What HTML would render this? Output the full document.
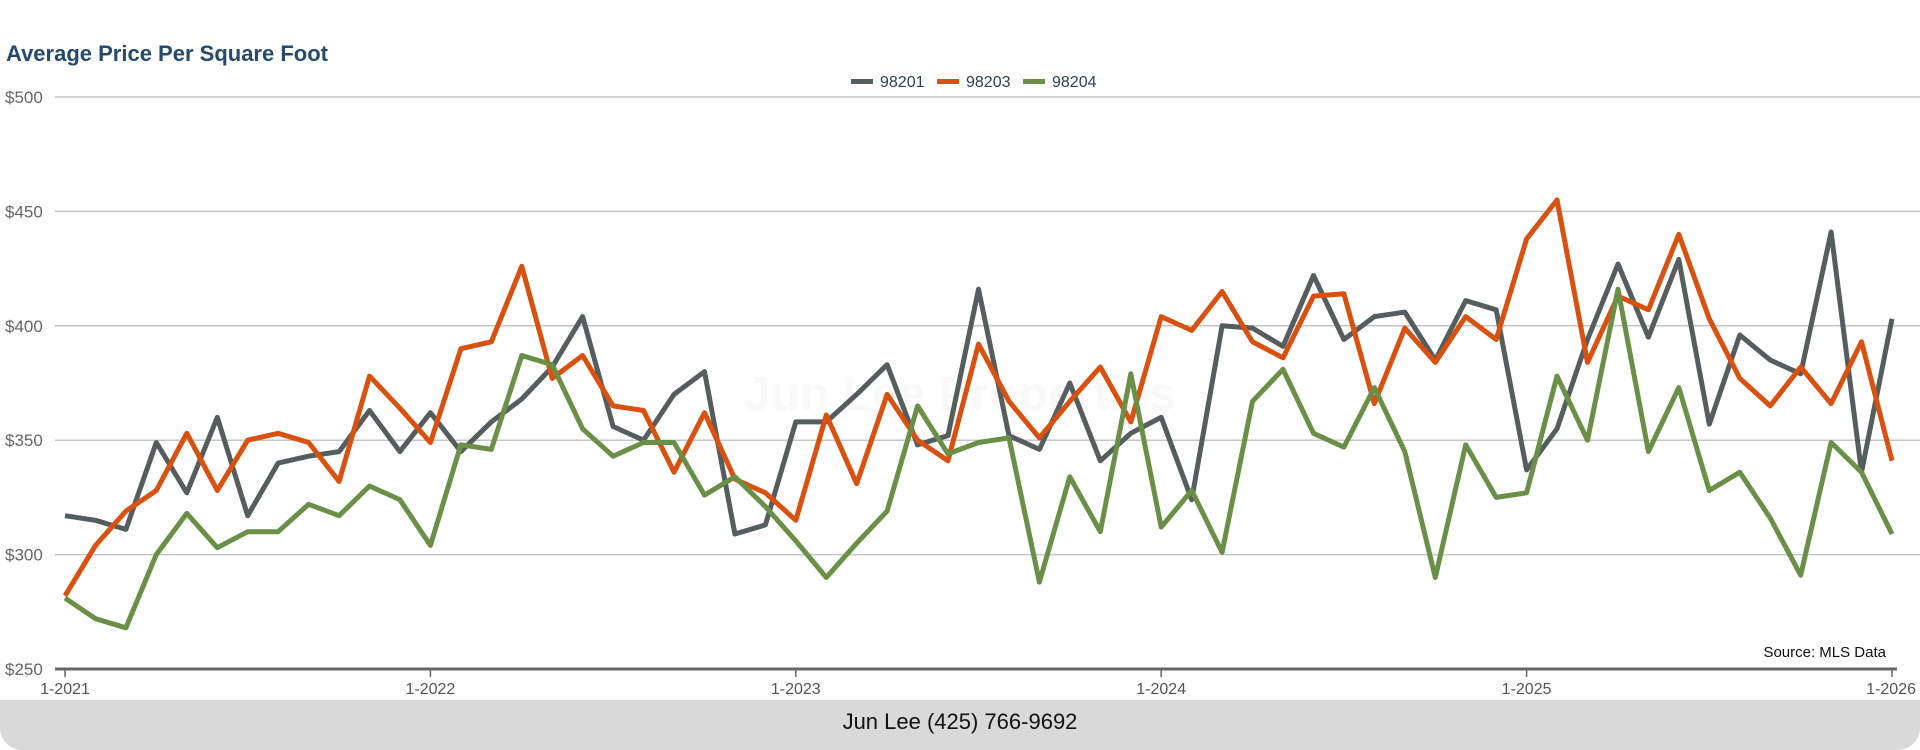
<!DOCTYPE html>
<html><head><meta charset="utf-8">
<style>
body{margin:0;width:1920px;height:750px;background:#fff;overflow:hidden;font-family:"Liberation Sans",sans-serif;position:relative}
#title{position:absolute;left:6px;top:41px;font-size:22px;font-weight:bold;color:#264a6e}
#footer{position:absolute;left:0;top:700px;width:1920px;height:50px;background:#d9d9d9;border-radius:0 0 22px 22px;text-align:center;line-height:44px;font-size:22px;color:#111}
svg{position:absolute;left:0;top:0}
</style></head><body>
<div id="title">Average Price Per Square Foot</div>
<svg id="chart" width="1920" height="750"></svg>
<div id="footer">Jun Lee (425) 766-9692</div>
<script>
const seriesNames=["98201","98203","98204"];
const colors=["#555d5e","#d9500f","#6a8f47"];
const s98201=[317,315,311,349,327,360,317,340,343,345,363,345,362,345,358,368,382,404,356,350,370,380,309,313,358,358,370,383,348,352,416,352,346,375,341,353,360,324,400,399,391,422,394,404,406,385,411,407,337,355,394,427,395,429,357,396,385,379,441,336,403];
const s98203=[282,304,319,328,353,328,350,353,349,332,378,364,349,390,393,426,377,387,365,363,336,362,333,327,315,361,331,370,350,341,392,367,351,367,382,358,404,398,415,393,386,413,414,366,399,384,404,394,438,455,384,413,407,440,403,377,365,382,366,393,341];
const s98204=[281,272,268,300,318,303,310,310,322,317,330,324,304,348,346,387,383,355,343,349,349,326,334,321,306,290,305,319,365,344,349,351,288,334,310,379,312,328,301,367,381,353,347,373,345,290,348,325,327,378,350,416,345,373,328,336,316,291,349,336,309];
const yTicks=[250,300,350,400,450,500];
const xTickLabels=["1-2021","1-2022","1-2023","1-2024","1-2025","1-2026"];
const NS="http://www.w3.org/2000/svg";
const svg=document.getElementById('chart');
const x0=65,x1=1892,yMin=250,yMax=500,yTop=97,yBot=669;
const nPts=s98201.length;
const xs=i=>x0+(x1-x0)*i/(nPts-1);
const ys=v=>yBot-(v-yMin)/(yMax-yMin)*(yBot-yTop);
function mk(t,a){const e=document.createElementNS(NS,t);for(const k in a)e.setAttribute(k,a[k]);svg.appendChild(e);return e;}
const wm=mk('text',{x:960,y:410,'text-anchor':'middle','font-size':48,'font-weight':'bold',fill:'#000','fill-opacity':0.025,'font-family':'Liberation Sans, sans-serif'});
wm.textContent="Jun Lee Properties";


yTicks.forEach(v=>{
  const y=ys(v);
  if(v!==250){const l=mk('line',{x1:55,x2:1920,y1:y,y2:y,stroke:'#c6c6c6','stroke-width':1.5});
  
  }
  const t=mk('text',{x:5,y:y+6,'font-size':17,fill:'#666'});
  t.textContent='$'+v;
  
  
});
const ax=mk('line',{x1:55,x2:1897,y1:yBot,y2:yBot,stroke:'#666','stroke-width':3});


xTickLabels.forEach((lab,k)=>{
  const x=xs(k*12);
  const tk=mk('line',{x1:x,x2:x,y1:yBot,y2:yBot+8,stroke:'#666','stroke-width':1.5});
  
  
  const t=mk('text',{x:k===5?1916:x,y:694,'text-anchor':k===5?'end':'middle','font-size':16,fill:'#555'});
  t.textContent=lab;
  
  
});
const src=mk('text',{x:1886,y:657,'text-anchor':'end','font-size':15,fill:'#111'});
src.textContent="Source: MLS Data";


[s98201,s98203,s98204].forEach((arr,si)=>{
  const d=arr.map((v,i)=>(i?'L':'M')+xs(i).toFixed(1)+','+ys(v).toFixed(1)).join('');
  const p=mk('path',{d:d,fill:'none',stroke:colors[si],'stroke-width':5,'stroke-linejoin':'round'});
  
  
});
const legX=[851,937,1023];
seriesNames.forEach((n,i)=>{
  const g=mk('g',{});
  
  
  const r=document.createElementNS(NS,'rect');
  r.setAttribute('x',legX[i]);r.setAttribute('y',79);r.setAttribute('width',22);r.setAttribute('height',5);r.setAttribute('fill',colors[i]);
  g.appendChild(r);
  const t=document.createElementNS(NS,'text');
  t.setAttribute('x',legX[i]+29);t.setAttribute('y',87);t.setAttribute('font-size',16);t.setAttribute('fill','#2b3f5a');
  t.textContent=n;g.appendChild(t);
});
</script>
</body></html>
